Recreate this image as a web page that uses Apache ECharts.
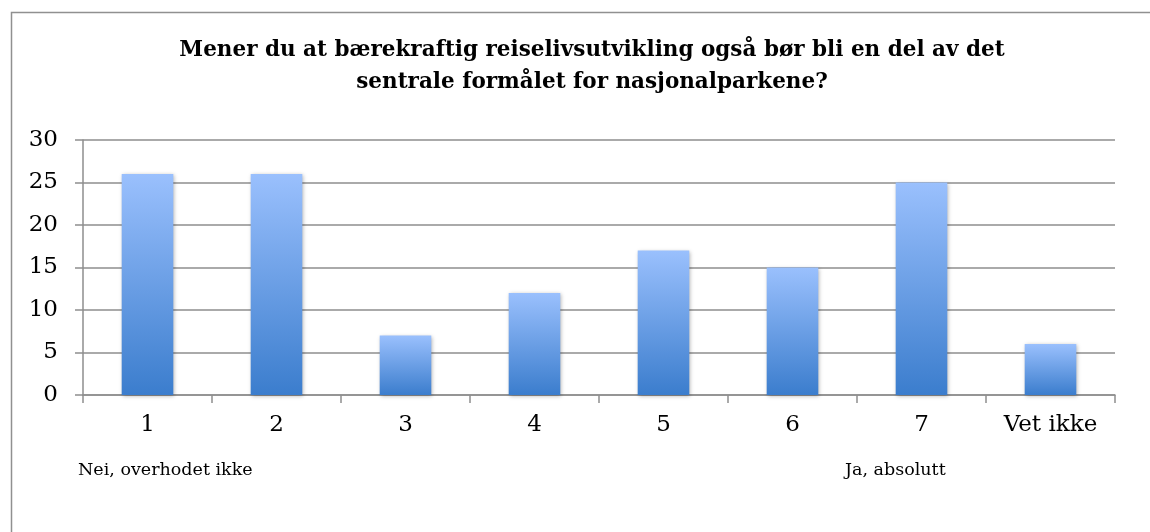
<!DOCTYPE html>
<html>
<head>
<meta charset="utf-8">
<script src="https://cdn.jsdelivr.net/npm/echarts@6/dist/echarts.min.js"></script>
<style>
  html, body { margin: 0; padding: 0; background: #fff; }
  #chart { width: 1150px; height: 532px; }
</style>
</head>
<body>
<div id="chart"></div>
<script>
// data
const categories = ['1', '2', '3', '4', '5', '6', '7', 'Vet ikke']
const answers = [26, 26, 7, 12, 17, 15, 25, 6]
const yTicks = [0, 5, 10, 15, 20, 25, 30]
const scaleEnds = ['Nei, overhodet ikke', 'Ja, absolutt']
const titleText = 'Mener du at bærekraftig reiselivsutvikling også bør bli en del av det\nsentrale formålet for nasjonalparkene?'

const font = 'DejaVu Serif'
const lineGrey = '#8e8e8e'

const chart = echarts.init(document.getElementById('chart'))
const option = {
  animation: false,
  title: {
    text: titleText,
    left: 587,
    textAlign: 'center',
    top: 29,
    textStyle: {
      fontFamily: font,
      fontWeight: 'bold',
      fontSize: 21.5,
      lineHeight: 32,
      color: '#000'
    }
  },
  grid: {
    left: 83,
    right: 35,
    top: 140,
    bottom: 137,
    containLabel: false
  },
  xAxis: {
    type: 'category',
    data: categories,
    axisLine: { lineStyle: { color: lineGrey, width: 1.5 } },
    axisTick: { show: true, length: 8, lineStyle: { color: lineGrey, width: 1.5 } },
    axisLabel: {
      margin: 19,
      fontFamily: font,
      fontSize: 23,
      color: '#000'
    }
  },
  yAxis: {
    type: 'value',
    min: yTicks[0],
    max: yTicks[yTicks.length - 1],
    interval: yTicks[1] - yTicks[0],
    axisLine: { show: true, lineStyle: { color: lineGrey, width: 1.5 } },
    axisTick: { show: true, length: 8, lineStyle: { color: lineGrey, width: 1.5 } },
    splitLine: { lineStyle: { color: lineGrey, width: 1.5 } },
    axisLabel: {
      margin: 25,
      fontFamily: font,
      fontSize: 23,
      color: '#000'
    }
  },
  series: [{
    type: 'bar',
    data: answers,
    barWidth: '40%',
    itemStyle: {
      color: new echarts.graphic.LinearGradient(0, 0, 0, 1, [
        { offset: 0, color: '#9ac0fd' },
        { offset: 1, color: '#3b7dcd' }
      ]),
      shadowColor: 'rgba(0,0,0,0.3)',
      shadowBlur: 4,
      shadowOffsetX: 1,
      shadowOffsetY: 1
    }
  }],
  graphic: [
    {
      type: 'rect',
      silent: true,
      shape: { x: 11.5, y: 12.5, width: 1300, height: 700 },
      style: { fill: 'none', stroke: '#909090', lineWidth: 1.5 }
    },
    {
      type: 'text',
      left: 78,
      top: 461,
      style: { text: scaleEnds[0], fontFamily: font, fontSize: 17.5, fill: '#000' }
    },
    {
      type: 'text',
      left: 845,
      top: 461,
      style: { text: scaleEnds[1], fontFamily: font, fontSize: 17.5, fill: '#000' }
    }
  ]
}
chart.setOption(option)
</script>
</body>
</html>
